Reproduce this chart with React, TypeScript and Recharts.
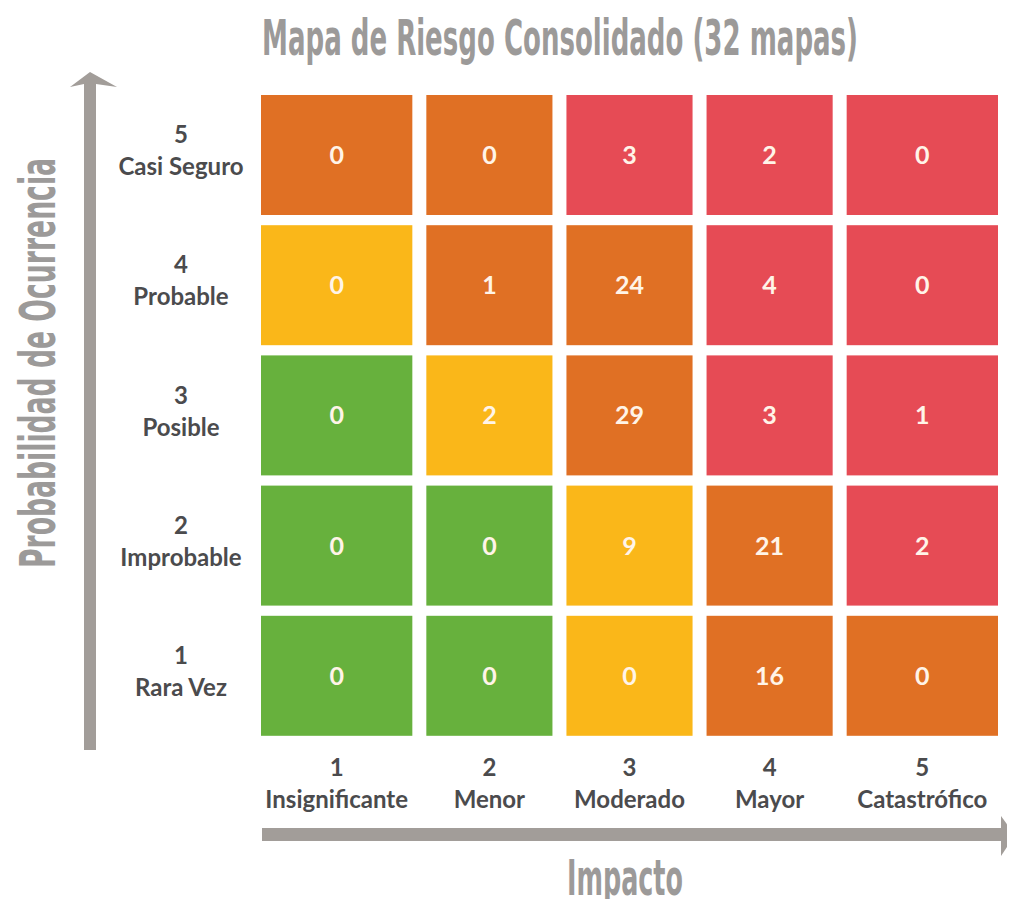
import React from "react";
import { BarChart, Bar, XAxis, YAxis, Cell, LabelList, Customized } from "recharts";

// ejes
const impactLevels = [1, 2, 3, 4, 5];
const impactNames = ["Insignificante", "Menor", "Moderado", "Mayor", "Catastrófico"];
const probabilityLevels = [5, 4, 3, 2, 1];
const probabilityNames = ["Casi Seguro", "Probable", "Posible", "Improbable", "Rara Vez"];

// cantidad de riesgos por celda (columna = impacto 1..5)
const countsCasiSeguro = [0, 0, 3, 2, 0];
const countsProbable = [0, 1, 24, 4, 0];
const countsPosible = [0, 2, 29, 3, 1];
const countsImprobable = [0, 0, 9, 21, 2];
const countsRaraVez = [0, 0, 0, 16, 0];

// zona de riesgo de cada celda
const zoneCasiSeguro = ["alto", "alto", "extremo", "extremo", "extremo"];
const zoneProbable = ["moderado", "alto", "alto", "extremo", "extremo"];
const zonePosible = ["bajo", "moderado", "alto", "extremo", "extremo"];
const zoneImprobable = ["bajo", "bajo", "moderado", "alto", "extremo"];
const zoneRaraVez = ["bajo", "bajo", "moderado", "alto", "alto"];

const countRows = [countsCasiSeguro, countsProbable, countsPosible, countsImprobable, countsRaraVez];
const zoneRows = [zoneCasiSeguro, zoneProbable, zonePosible, zoneImprobable, zoneRaraVez];

const ZONE_COLORS: Record<string, string> = {
  bajo: "#67b13d",
  moderado: "#fab719",
  alto: "#e07024",
  extremo: "#e64b55",
};

// las columnas de los extremos son algo más anchas
const COL_WEIGHTS = [1.18, 1, 1, 1, 1.18];
const TOTAL_W = COL_WEIGHTS.reduce((a, b) => a + b, 0);
const COL_CENTERS = COL_WEIGHTS.map(
  (w, i) => COL_WEIGHTS.slice(0, i).reduce((a, b) => a + b, 0) + w / 2
);
const GAP = 14;

const LABEL_FONT = "Lato, 'Open Sans', sans-serif";
const LABEL_COLOR = "#4b4b4d";
const TITLE_FONT = "'Liberation Sans Narrow', 'DejaVu Sans Condensed', Roboto, sans-serif";
const GREY = "#a29d99";
const TITLE_GREY = "#9c9a99";
// letra angosta y alta: se estira en vertical
const TITLE_SIZE = 36;
const TITLE_STRETCH = 1.39;

const data = probabilityLevels.map((lvl, r) => {
  const row: Record<string, any> = { prob: lvl };
  impactLevels.forEach((_, c) => {
    row[`w${c}`] = COL_WEIGHTS[c];
    row[`n${c}`] = countRows[r][c];
    row[`z${c}`] = zoneRows[r][c];
  });
  return row;
});

const CellShape = (p: any) => (
  <rect x={p.x + GAP / 2} y={p.y} width={Math.max(p.width - GAP, 0)} height={p.height} fill={p.fill} />
);

const ProbTick = (p: any) => {
  const idx = probabilityLevels.indexOf(p.payload.value);
  const cx = p.x - 73;
  return (
    <g>
      <text x={cx} y={p.y - 12} textAnchor="middle" fontFamily={LABEL_FONT} fontWeight={700} fontSize={24} fill={LABEL_COLOR}>
        {p.payload.value}
      </text>
      <text x={cx} y={p.y + 20} textAnchor="middle" fontFamily={LABEL_FONT} fontWeight={700} fontSize={24} fill={LABEL_COLOR}>
        {probabilityNames[idx]}
      </text>
    </g>
  );
};

const ImpactTick = (p: any) => {
  const idx = p.index ?? COL_CENTERS.indexOf(p.payload.value);
  return (
    <g>
      <text x={p.x} y={p.y + 35} textAnchor="middle" fontFamily={LABEL_FONT} fontWeight={700} fontSize={24} fill={LABEL_COLOR}>
        {impactLevels[idx]}
      </text>
      <text x={p.x} y={p.y + 67} textAnchor="middle" fontFamily={LABEL_FONT} fontWeight={700} fontSize={24} fill={LABEL_COLOR}>
        {impactNames[idx]}
      </text>
    </g>
  );
};

const TallText = ({ at, rotate = 0, anchor = "start", len, children }: any) => (
  <text
    transform={`translate(${at[0]},${at[1]}) rotate(${rotate}) scale(1,${TITLE_STRETCH})`}
    textAnchor={anchor}
    fontFamily={TITLE_FONT}
    fontWeight={700}
    fontSize={TITLE_SIZE}
    fill={TITLE_GREY}
    textLength={len}
    lengthAdjust="spacingAndGlyphs"
  >
    {children}
  </text>
);

const Decor = () => (
  <g>
    <TallText at={[262, 55]} len={596}>
      Mapa de Riesgo Consolidado (32 mapas)
    </TallText>
    {/* eje vertical */}
    <rect x={84} y={82} width={12} height={668} fill={GREY} />
    <polygon points="70,87 90,72 117,87 96,84 84,84" fill={GREY} />
    <TallText at={[55, 363]} rotate={-90} anchor="middle" len={410}>
      Probabilidad de Ocurrencia
    </TallText>
    {/* eje horizontal */}
    <rect x={262} y={828} width={742} height={13} fill={GREY} />
    <polygon points="1001,816 1015,835 1001,856" fill={GREY} />
    <TallText at={[625, 895]} anchor="middle" len={116}>
      Impacto
    </TallText>
  </g>
);

export default function App() {
  return (
    <div style={{ margin: -8, width: 1015, height: 907, background: "#fff" }}>
      <BarChart
        width={1015}
        height={907}
        data={data}
        layout="vertical"
        margin={{ top: 90, right: 10, bottom: 106, left: 104 }}
      >
        <XAxis
          type="number"
          domain={[0, TOTAL_W]}
          ticks={COL_CENTERS}
          interval={0}
          height={60}
          tickSize={0}
          tickMargin={0}
          axisLine={false}
          tickLine={false}
          tick={<ImpactTick />}
        />
        <YAxis
          type="category"
          dataKey="prob"
          width={150}
          tickSize={0}
          tickMargin={0}
          axisLine={false}
          tickLine={false}
          tick={<ProbTick />}
        />
        {impactLevels.map((_, c) => (
          <Bar key={c} dataKey={`w${c}`} stackId="mapa" barSize={120} isAnimationActive={false} shape={CellShape}>
            {data.map((row, r) => (
              <Cell key={r} fill={ZONE_COLORS[row[`z${c}`]]} />
            ))}
            <LabelList
              dataKey={`n${c}`}
              content={(p: any) => (
                <text
                  x={p.x + p.width / 2}
                  y={p.y + p.height / 2 + 9}
                  textAnchor="middle"
                  fontFamily={LABEL_FONT}
                  fontWeight={700}
                  fontSize={25}
                  fill="#fff4e8"
                >
                  {p.value}
                </text>
              )}
            />
          </Bar>
        ))}
        <Customized component={<Decor />} />
      </BarChart>
    </div>
  );
}
